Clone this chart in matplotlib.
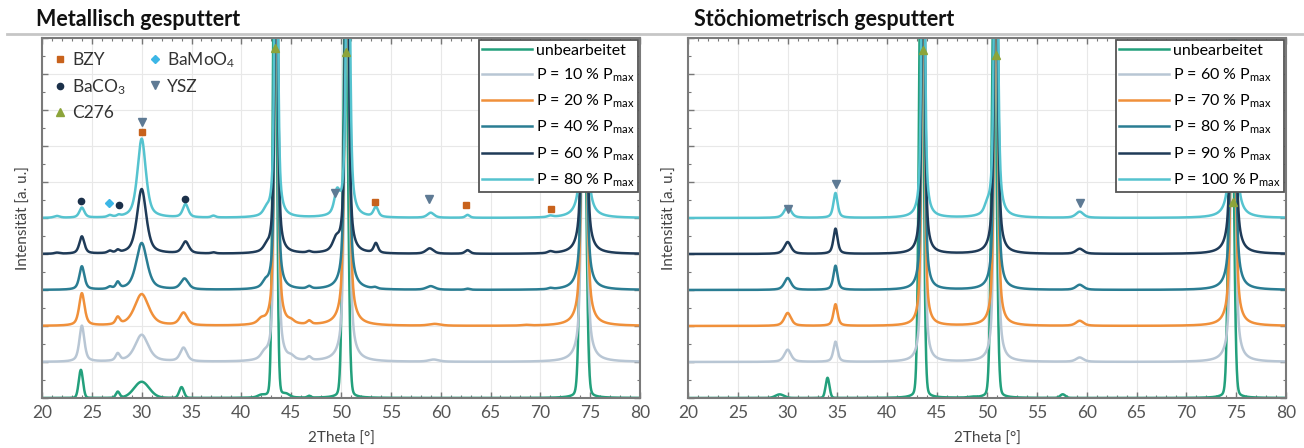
import matplotlib
matplotlib.use("Agg")
import matplotlib.pyplot as plt
from matplotlib.lines import Line2D
import numpy as np

plt.rcParams["font.family"] = ["Lato", "DejaVu Sans"]
plt.rcParams["mathtext.default"] = "regular"

# peak tables: (2theta, height in offset units, fwhm in deg)
met_unb = [(23.9, 0.78, 0.5), (27.6, 0.17, 0.45), (30.0, 0.45, 1.8), (34.0, 0.3, 0.55),
           (42.0, 0.06, 0.8), (43.35, 14, 0.45), (44.5, 0.08, 0.8), (46.8, 0.05, 0.4),
           (50.45, 12, 0.55), (74.3, 12, 0.6)]
met_p10 = [(24.0, 1.0, 0.6), (27.6, 0.2, 0.5), (30.0, 0.75, 1.6), (34.2, 0.38, 0.8),
           (42.3, 0.15, 0.8), (43.5, 12, 0.4), (45.0, 0.08, 0.7), (46.8, 0.1, 0.5),
           (50.6, 12, 0.5), (59.3, 0.06, 1.2), (74.4, 12, 0.5)]
met_p20 = [(24.0, 0.9, 0.65), (27.6, 0.2, 0.5), (30.0, 0.88, 1.7), (34.2, 0.35, 0.9),
           (42.0, 0.12, 0.8), (43.5, 12, 0.4), (45.0, 0.07, 0.7), (46.8, 0.1, 0.5),
           (50.6, 12, 0.5), (59.4, 0.05, 1.4), (68.5, 0.02, 0.8), (74.4, 12, 0.5)]
met_p40 = [(24.0, 0.65, 0.6), (26.8, 0.06, 0.5), (27.6, 0.18, 0.45), (30.0, 1.3, 1.3),
           (34.3, 0.3, 0.9), (42.4, 0.15, 0.7), (43.5, 12, 0.35), (46.8, 0.07, 0.5),
           (50.6, 12, 0.45), (53.4, 0.04, 0.5), (59.0, 0.1, 1.0), (62.7, 0.03, 0.5),
           (71.0, 0.03, 0.5), (74.4, 12, 0.45)]
met_p60 = [(21.5, 0.03, 0.6), (24.0, 0.48, 0.6), (26.8, 0.06, 0.5), (27.6, 0.07, 0.4),
           (30.0, 1.8, 1.1), (34.4, 0.33, 0.8), (37.2, 0.03, 0.5), (42.5, 0.12, 0.7),
           (43.5, 12, 0.35), (46.8, 0.04, 0.5), (49.5, 0.3, 0.8), (50.6, 12, 0.4),
           (53.5, 0.27, 0.5), (58.9, 0.15, 0.9), (62.7, 0.1, 0.6), (71.0, 0.05, 0.6),
           (74.4, 12, 0.45)]
met_p80 = [(21.5, 0.05, 0.7), (24.0, 0.28, 0.6), (26.8, 0.05, 0.5), (27.7, 0.04, 0.4),
           (30.0, 2.2, 1.0), (34.4, 0.37, 0.65), (37.2, 0.05, 0.5), (42.5, 0.15, 0.7),
           (43.5, 12, 0.35), (49.6, 0.6, 0.65), (50.7, 12, 0.4), (53.5, 0.28, 0.55),
           (59.0, 0.14, 0.8), (62.7, 0.08, 0.5), (71.0, 0.04, 0.6), (74.4, 12, 0.45)]

sto_unb = [(29.2, 0.1, 1.0), (34.0, 0.56, 0.45), (43.4, 14, 0.5), (48.5, 0.02, 0.8),
           (50.7, 12, 0.55), (57.6, 0.1, 0.6), (74.5, 12, 0.55)]
sto_p60 = [(30.0, 0.34, 0.8), (34.8, 0.56, 0.5), (43.6, 12, 0.35), (50.9, 12, 0.4),
           (59.3, 0.12, 0.9), (74.7, 12, 0.45)]
sto_p70 = [(30.0, 0.36, 0.8), (34.8, 0.6, 0.5), (43.6, 12, 0.35), (50.9, 12, 0.4),
           (59.3, 0.14, 0.9), (74.7, 12, 0.45)]
sto_p80 = [(30.0, 0.33, 0.8), (34.8, 0.67, 0.5), (43.6, 12, 0.35), (50.9, 12, 0.4),
           (59.3, 0.14, 0.9), (74.7, 12, 0.45)]
sto_p90 = [(30.0, 0.33, 0.8), (34.8, 0.7, 0.5), (43.6, 12, 0.35), (50.9, 12, 0.4),
           (59.3, 0.14, 0.9), (74.7, 12, 0.45)]
sto_p100 = [(30.0, 0.32, 0.8), (34.8, 0.69, 0.5), (43.6, 12, 0.35), (50.0, 0.2, 0.6),
            (50.9, 12, 0.4), (59.3, 0.17, 0.9), (74.7, 12, 0.45)]

met_labels = ["unbearbeitet", "P = 10 % P$_{max}$", "P = 20 % P$_{max}$",
              "P = 40 % P$_{max}$", "P = 60 % P$_{max}$", "P = 80 % P$_{max}$"]
sto_labels = ["unbearbeitet", "P = 60 % P$_{max}$", "P = 70 % P$_{max}$",
              "P = 80 % P$_{max}$", "P = 90 % P$_{max}$", "P = 100 % P$_{max}$"]
offsets = [0, 1, 2, 3, 4, 5]
eta = [0.1, 0.6, 0.6, 0.6, 0.6, 0.6]
colors = ["#23a07c", "#b8c6d4", "#f0903a", "#2a7d93", "#1f3b58", "#55c3cf"]

# phase markers (2theta, y position)
bzy = [(30.0, 7.39), (53.4, 5.44), (62.5, 5.36), (71.1, 5.25)]
baco3 = [(23.9, 5.47), (27.7, 5.36), (34.3, 5.53)]
bamoo4 = [(26.7, 5.42)]
ysz_met = [(30.0, 7.67), (49.4, 5.69), (58.8, 5.53)]
c276_met = [(43.4, 9.72), (50.5, 9.6)]
ysz_sto = [(30.0, 5.25), (34.8, 5.94), (59.3, 5.42)]
c276_sto = [(43.6, 9.67), (50.9, 9.53), (74.7, 5.44)]

two_theta = np.linspace(20, 80, 6001)


def pattern(peaks, mix):
    y = np.zeros_like(two_theta)
    for c, h, w in peaks:
        u = (two_theta - c) / (w / 2)
        y += h * (mix / (1 + u ** 2) + (1 - mix) * np.exp(-np.log(2) * u ** 2))
    return y


def style_axes(ax):
    ax.set_xlim(20, 80)
    ax.set_ylim(0, 10)
    ax.set_xticks(np.arange(20, 81, 5))
    ax.set_xticks(np.arange(20, 81, 1), minor=True)
    ax.set_yticks(np.arange(0, 11, 1))
    ax.set_yticks(np.arange(0, 10.1, 0.5), minor=True)
    ax.tick_params(axis="both", which="both", direction="in", top=True, right=True,
                   color="#777777", labelleft=False)
    ax.tick_params(which="major", length=4, width=1)
    ax.tick_params(which="minor", length=2.5, width=0.8)
    ax.tick_params(axis="x", labelsize=12.5, labelcolor="#555555", pad=5)
    ax.grid(which="major", color="#e8e8e8", linewidth=0.8)
    ax.set_axisbelow(True)
    for s in ax.spines.values():
        s.set_color("#7a7a7a")
        s.set_linewidth(1.5)
    ax.set_xlabel("2Theta [°]", fontsize=11, color="#444444", labelpad=8)
    ax.set_ylabel("Intensität [a. u.]", fontsize=11, color="#444444", labelpad=8)


def draw_panel(ax, series, labels):
    for pk, lab, off, mix, col in zip(series, labels, offsets, eta, colors):
        ax.plot(two_theta, off + pattern(pk, mix), color=col, lw=1.8, label=lab)
    leg = ax.legend(loc="upper right", fontsize=11.5, frameon=True, fancybox=False,
                    edgecolor="#555555", framealpha=1, borderaxespad=0.15,
                    borderpad=0.2, handlelength=3.1, handletextpad=0.25,
                    labelspacing=0.55)
    leg.get_frame().set_linewidth(1.3)
    leg.set_zorder(10)
    return leg


def draw_marks(ax, pts, marker, col, size):
    xs = [p[0] for p in pts]
    ys = [p[1] for p in pts]
    ax.plot(xs, ys, ls="none", marker=marker, color=col, ms=size, zorder=5)


W, H = 1304, 448
fig = plt.figure(figsize=(W / 100, H / 100), dpi=100)
ax1 = fig.add_axes([42 / W, 1 - 398 / H, 598 / W, 360 / H])
ax2 = fig.add_axes([688 / W, 1 - 398 / H, 598 / W, 360 / H])

style_axes(ax1)
style_axes(ax2)

leg1 = draw_panel(ax1, [met_unb, met_p10, met_p20, met_p40, met_p60, met_p80], met_labels)
leg2 = draw_panel(ax2, [sto_unb, sto_p60, sto_p70, sto_p80, sto_p90, sto_p100], sto_labels)

c_bzy, c_baco3, c_c276, c_bamoo4, c_ysz = "#c8621c", "#1b3049", "#8ca43a", "#3cb6e6", "#5e7a94"

draw_marks(ax1, bzy, "s", c_bzy, 4.5)
draw_marks(ax1, baco3, "o", c_baco3, 4.5)
draw_marks(ax1, bamoo4, "D", c_bamoo4, 4)
draw_marks(ax1, ysz_met, "v", c_ysz, 6)
draw_marks(ax1, c276_met, "^", c_c276, 5.5)
draw_marks(ax2, ysz_sto, "v", c_ysz, 6)
draw_marks(ax2, c276_sto, "^", c_c276, 5.5)

phase_handles = [
    Line2D([], [], ls="none", marker="s", color=c_bzy, ms=4.5),
    Line2D([], [], ls="none", marker="o", color=c_baco3, ms=4.5),
    Line2D([], [], ls="none", marker="^", color=c_c276, ms=5.5),
    Line2D([], [], ls="none", marker="D", color=c_bamoo4, ms=4),
    Line2D([], [], ls="none", marker="v", color=c_ysz, ms=6),
]
phase_labels = ["BZY", "BaCO$_3$", "C276", "BaMoO$_4$", "YSZ"]
ax1.add_artist(leg1)
ax1.legend(phase_handles, phase_labels, loc="upper left", ncol=2, frameon=False,
           fontsize=12.5, handlelength=0.7, handletextpad=0.35, columnspacing=1.3,
           labelspacing=0.5, borderaxespad=0.3, labelcolor="#333333")

fig.text(36 / W, 1 - 20 / H, "Metallisch gesputtert", fontsize=15.5, fontweight="bold",
         va="center", ha="left", color="#111111")
fig.text(694 / W, 1 - 20 / H, "Stöchiometrisch gesputtert", fontsize=15.5,
         fontweight="bold", va="center", ha="left", color="#111111")
fig.add_artist(Line2D([0.005, 1.0], [1 - 34 / H, 1 - 34 / H], transform=fig.transFigure,
                      color="#c6c6c6", lw=2))

fig.savefig("out.png", dpi=100)
